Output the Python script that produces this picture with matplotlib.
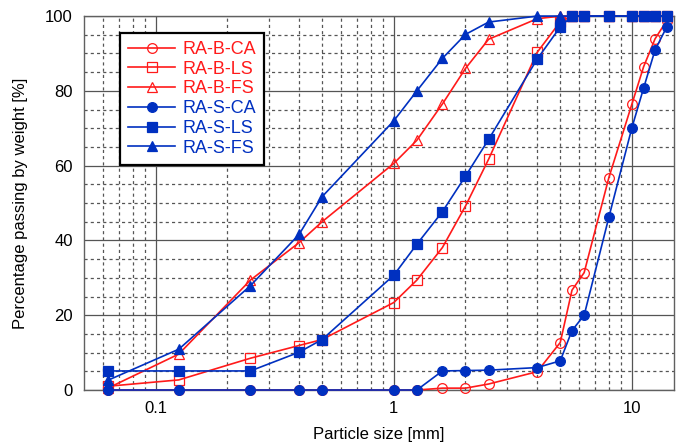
import numpy as np
import matplotlib
matplotlib.use("Agg")
import matplotlib.pyplot as plt
from matplotlib.ticker import FixedLocator, NullFormatter

plt.rcParams['font.family'] = ['Liberation Sans', 'DejaVu Sans']

# sieve sizes [mm]
sizes = [0.063, 0.125, 0.25, 0.4, 0.5, 1, 1.25, 1.6, 2, 2.5, 4, 5, 5.6, 6.3, 8, 10, 11.2, 12.5, 14]

# percentage passing [%]
ra_b_ca = [0, 0, 0, 0, 0, 0, 0, 0.5, 0.5, 1.6, 4.9, 12.7, 26.7, 31.4, 56.8, 76.5, 86.5, 93.9, 98.8]
ra_b_ls = [1.0, 2.7, 8.5, 11.9, 13.5, 23.4, 29.4, 38.1, 49.2, 61.7, 90.3, 98.5, 100, 100, 100, 100, 100, 100, 100]
ra_b_fs = [0.5, 9.6, 29.4, 39.4, 45.0, 60.6, 66.8, 76.5, 86.0, 93.8, 99.3, 100, 100, 100, 100, 100, 100, 100, 100]
ra_s_ca = [0, 0, 0, 0, 0, 0, 0, 5.1, 5.2, 5.3, 6.0, 7.8, 15.9, 20.0, 46.2, 70.2, 80.8, 90.9, 97.1]
ra_s_ls = [5.1, 5.1, 5.1, 10.1, 13.5, 30.7, 39.0, 47.7, 57.2, 67.0, 88.5, 97.1, 100, 100, 100, 100, 100, 100, 100]
ra_s_fs = [2.6, 10.9, 27.9, 41.6, 51.7, 72.0, 80.0, 88.7, 95.1, 98.4, 100, 100, 100, 100, 100, 100, 100, 100, 100]

red = '#FF1A1A'
blue = '#0030C0'

fig = plt.figure(figsize=(6.8, 4.47), dpi=100)
ax = fig.add_axes([0.1235, 0.1275, 0.8675, 0.8365])

series = [
    ('RA-B-CA', ra_b_ca, red, 'o', 'none'),
    ('RA-B-LS', ra_b_ls, red, 's', 'none'),
    ('RA-B-FS', ra_b_fs, red, '^', 'none'),
    ('RA-S-CA', ra_s_ca, blue, 'o', blue),
    ('RA-S-LS', ra_s_ls, blue, 's', blue),
    ('RA-S-FS', ra_s_fs, blue, '^', blue),
]
for name, vals, c, m, fc in series:
    ax.plot(sizes, vals, color=c, marker=m, markerfacecolor=fc, markeredgecolor=c,
            markersize=7, markeredgewidth=0.9, linewidth=1.2, label=name,
            clip_on=False, zorder=3)

ax.set_xscale('log')
ax.set_xlim(0.05, 15)
ax.set_ylim(0, 100)
ax.set_yticks(np.arange(0, 101, 20))
ax.yaxis.set_minor_locator(FixedLocator([v for v in range(5, 100, 5) if v % 20 != 0]))
ax.set_xticks([0.1, 1, 10])
ax.set_xticklabels(['0.1', '1', '10'])
ax.xaxis.set_minor_locator(FixedLocator([0.06, 0.07, 0.08, 0.09] +
                                        [k * 0.1 for k in range(2, 10)] +
                                        list(range(2, 10))))
ax.xaxis.set_minor_formatter(NullFormatter())

ax.grid(True, which='major', color='#555555', linewidth=0.9, linestyle='-')
ax.grid(True, which='minor', color='#555555', linewidth=0.9, linestyle=(0, (2.5, 2.5)))
ax.set_axisbelow(True)
ax.tick_params(which='both', length=0, labelsize=12, pad=8)
for s in ax.spines.values():
    s.set_color('#606060')
    s.set_linewidth(1.0)

ax.set_xlabel('Particle size [mm]', fontsize=12, labelpad=8)
ax.set_ylabel('Percentage passing by weight [%]', fontsize=12, labelpad=12)

leg = ax.legend(loc='upper left', bbox_to_anchor=(0.061, 0.955), borderaxespad=0,
                fontsize=13, frameon=True, fancybox=False, edgecolor='black',
                handlelength=2.6, borderpad=0.45, labelspacing=0.15, handletextpad=0.4)
leg.get_frame().set_linewidth(1.6)
leg.get_frame().set_alpha(1)
for t, (name, vals, c, m, fc) in zip(leg.get_texts(), series):
    t.set_color(c)

fig.savefig('out.png', dpi=100)
